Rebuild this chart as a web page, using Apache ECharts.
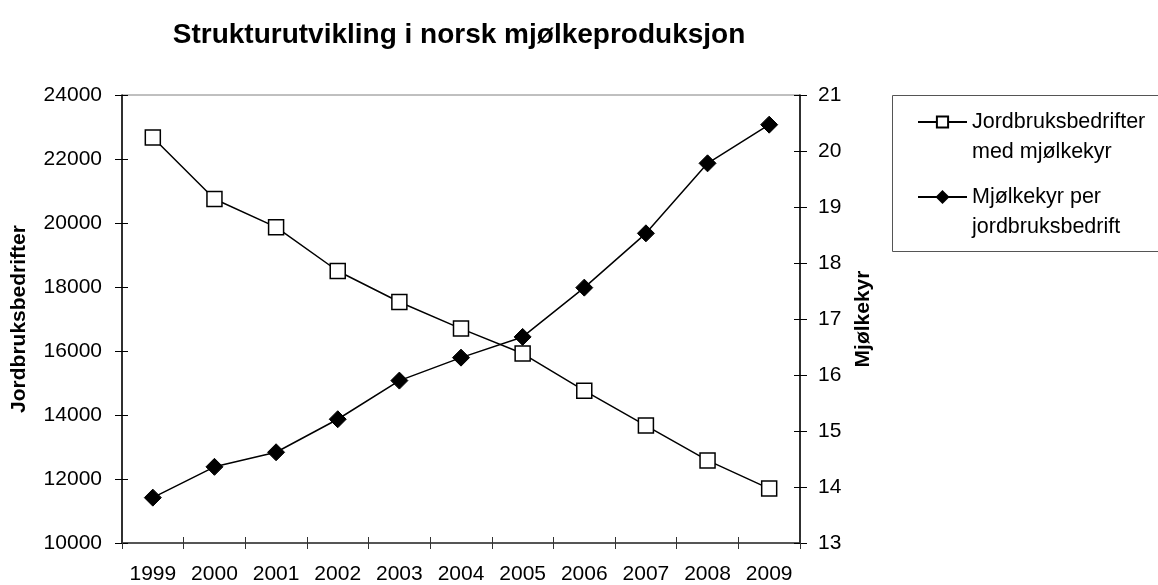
<!DOCTYPE html>
<html>
<head>
<meta charset="utf-8">
<script src="https://cdn.jsdelivr.net/npm/echarts@6/dist/echarts.min.js"></script>
<style>
  html, body { margin: 0; padding: 0; background: #fff; }
  #chart { width: 1158px; height: 585px; }
</style>
</head>
<body>
<div id="chart"></div>
<script>
// data
const years = ['1999', '2000', '2001', '2002', '2003', '2004', '2005', '2006', '2007', '2008', '2009']
const farms = [22670, 20750, 19870, 18500, 17530, 16700, 15920, 14760, 13670, 12580, 11700]
const cowsPerFarm = [13.81, 14.36, 14.62, 15.21, 15.90, 16.31, 16.68, 17.56, 18.53, 19.78, 20.47]
const legendLabels = {
  'Jordbruksbedrifter med mjølkekyr': '\nJordbruksbedrifter\nmed mjølkekyr',
  'Mjølkekyr per jordbruksbedrift': '\nMjølkekyr per\njordbruksbedrift'
}

const font = '"Liberation Sans", Arial, sans-serif'
const chart = echarts.init(document.getElementById('chart'))

// extra axes only draw the inner half of the crossing tick marks
const innerTicks = (color) => ({
  axisLine: { show: false },
  axisTick: { show: true, inside: true, length: 6, lineStyle: { color } },
  axisLabel: { show: false },
  splitLine: { show: false }
})

const option = {
  animation: false,
  textStyle: { fontFamily: font, color: '#000' },
  title: {
    text: 'Strukturutvikling i norsk mjølkeproduksjon',
    left: 459,
    top: 21,
    padding: 0,
    textAlign: 'center',
    textStyle: { fontFamily: font, fontSize: 28, fontWeight: 'bold', color: '#000' }
  },
  grid: {
    left: 122, right: 358, top: 95, bottom: 41,
    show: true, borderColor: '#808080', borderWidth: 1
  },
  legend: {
    orient: 'vertical',
    left: 917,
    top: 77,
    padding: 0,
    itemGap: -15,
    itemWidth: 49,
    itemHeight: 14,
    formatter: name => legendLabels[name],
    textStyle: { fontFamily: font, fontSize: 21.5, lineHeight: 30, color: '#000' }
  },
  graphic: [{
    type: 'rect',
    shape: { x: 892.5, y: 95.5, width: 270, height: 156 },
    style: { fill: 'none', stroke: '#555', lineWidth: 1 }
  }],
  xAxis: [{
    type: 'category',
    data: years,
    position: 'bottom',
    boundaryGap: true,
    axisLine: { lineStyle: { color: '#333', width: 1.5 } },
    axisTick: { show: true, interval: 0, length: 6, lineStyle: { color: '#333' } },
    axisLabel: { interval: 0, margin: 21, fontSize: 21, color: '#000', fontFamily: font }
  }, Object.assign({
    type: 'category',
    data: years,
    position: 'bottom',
    boundaryGap: true
  }, innerTicks('#333'), {
    axisTick: { show: true, inside: true, interval: 0, length: 6, lineStyle: { color: '#333' } }
  })],
  yAxis: [{
    type: 'value',
    position: 'left',
    min: 10000, max: 24000, interval: 2000,
    name: 'Jordbruksbedrifter',
    nameLocation: 'middle',
    nameGap: 92,
    nameTextStyle: { fontFamily: font, fontSize: 21, fontWeight: 'bold', color: '#000' },
    axisLine: { show: true, lineStyle: { color: '#000', width: 1.5 } },
    axisTick: { show: true, length: 7, lineStyle: { color: '#000' } },
    axisLabel: { margin: 20, fontSize: 21, color: '#000', fontFamily: font, formatter: v => String(v) },
    splitLine: { show: false }
  }, {
    type: 'value',
    position: 'right',
    min: 13, max: 21, interval: 1,
    name: 'Mjølkekyr',
    nameLocation: 'middle',
    nameGap: 52,
    nameTextStyle: { fontFamily: font, fontSize: 21, fontWeight: 'bold', color: '#000' },
    axisLine: { show: true, lineStyle: { color: '#000', width: 1.5 } },
    axisTick: { show: true, length: 7, lineStyle: { color: '#000' } },
    axisLabel: { margin: 18, fontSize: 21, color: '#000', fontFamily: font },
    splitLine: { show: false }
  }, Object.assign({
    type: 'value', position: 'left', min: 10000, max: 24000, interval: 2000
  }, innerTicks('#000')), Object.assign({
    type: 'value', position: 'right', min: 13, max: 21, interval: 1
  }, innerTicks('#000'))],
  series: [{
    name: 'Jordbruksbedrifter med mjølkekyr',
    type: 'line',
    xAxisIndex: 0,
    yAxisIndex: 0,
    data: farms,
    symbol: 'rect',
    symbolSize: 15,
    lineStyle: { color: '#000', width: 1.5 },
    itemStyle: { color: '#fff', borderColor: '#000', borderWidth: 1.5 }
  }, {
    name: 'Mjølkekyr per jordbruksbedrift',
    type: 'line',
    xAxisIndex: 0,
    yAxisIndex: 1,
    data: cowsPerFarm,
    symbol: 'diamond',
    symbolSize: [17, 17],
    lineStyle: { color: '#000', width: 1.5 },
    itemStyle: { color: '#000', borderColor: '#000', borderWidth: 1 }
  }]
}

chart.setOption(option)
</script>
</body>
</html>
